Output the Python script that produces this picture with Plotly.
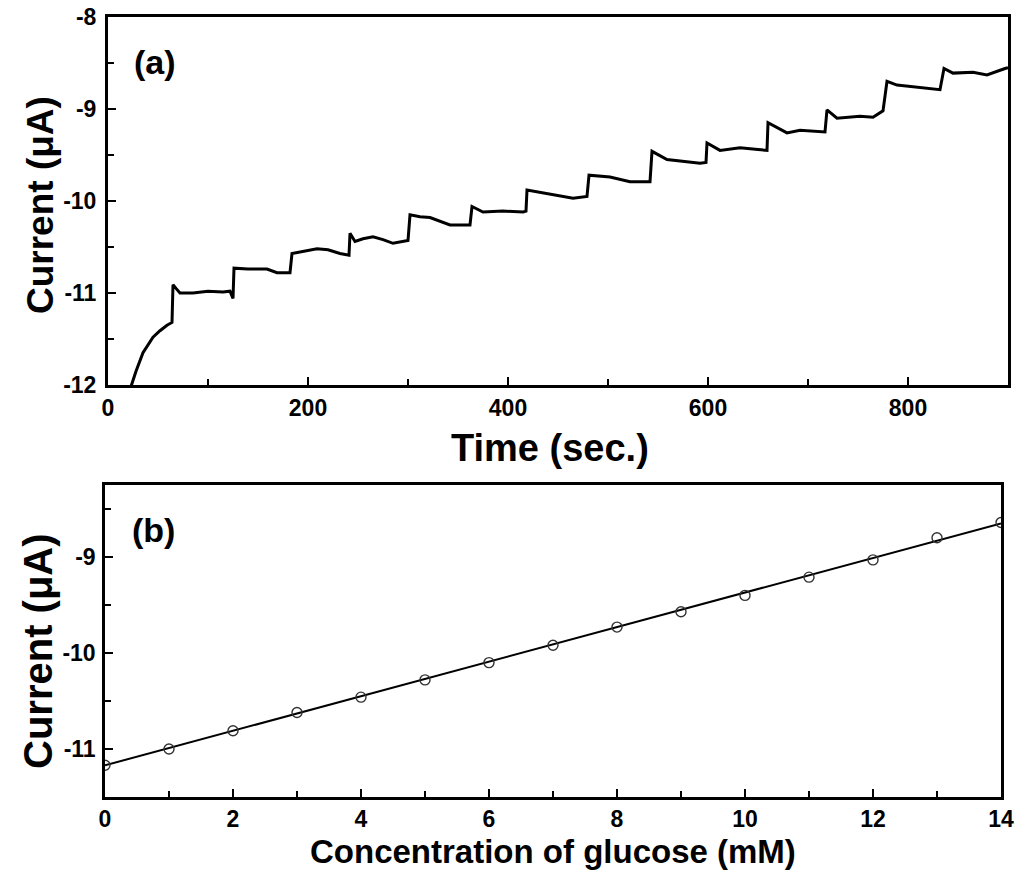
import plotly.graph_objects as go

# (a) amperometric response
tempo = [22, 28, 35, 45, 52, 59, 64, 65, 68, 72, 85, 100, 115, 122, 125,
         126, 140, 159, 169, 182, 184, 195, 209, 220, 232, 241,
         242, 247, 255, 265, 275, 285, 300, 302, 312, 322, 335, 342, 362,
         364, 375, 395, 415, 418, 419, 438, 452, 465, 479,
         481, 502, 522, 542, 544, 559, 575, 592, 598,
         599, 612, 632, 650, 659, 660, 679, 692, 717,
         719, 729, 752, 765, 775, 779, 789, 809, 832,
         836, 845, 865, 879, 897, 900]
corrente = [-12.05, -11.85, -11.65, -11.48, -11.41, -11.35, -11.32, -10.91, -10.95, -11.0, -11.0, -10.98, -10.99, -10.98, -11.06,
            -10.73, -10.74, -10.74, -10.78, -10.78, -10.57, -10.55, -10.52, -10.53, -10.57, -10.59,
            -10.35, -10.44, -10.41, -10.39, -10.42, -10.46, -10.43, -10.15, -10.17, -10.18, -10.23, -10.26, -10.26,
            -10.06, -10.12, -10.11, -10.12, -10.11, -9.88, -9.92, -9.95, -9.97, -9.95,
            -9.72, -9.74, -9.79, -9.79, -9.46, -9.55, -9.57, -9.59, -9.58,
            -9.37, -9.45, -9.42, -9.44, -9.45, -9.15, -9.26, -9.23, -9.25,
            -9.01, -9.10, -9.08, -9.09, -9.02, -8.70, -8.74, -8.76, -8.79,
            -8.56, -8.61, -8.60, -8.63, -8.56, -8.55]

# (b) calibration points and linear fit
conc = [0, 1, 2, 3, 4, 5, 6, 7, 8, 9, 10, 11, 12, 13, 14]
corr_b = [-11.17, -11.0, -10.81, -10.62, -10.46, -10.28, -10.10, -9.92,
          -9.73, -9.57, -9.40, -9.21, -9.03, -8.80, -8.64]
fit_x = [0, 14]
fit_y = [-11.17, -8.65]

ticks_a_y = [-12, -11, -10, -9, -8]
ticks_a_x = [0, 200, 400, 600, 800]
ticks_b_y = [-11, -10, -9]
ticks_b_x = [0, 2, 4, 6, 8, 10, 12, 14]

fonte = "Liberation Sans, Arial, sans-serif"

# full-window figure; the page body margin is removed in post_script
FW, FH = 1024, 884
L, R, T, B = 95, 5, 5, 20
W = FW - L - R
H = FH - T - B

def px(x):
    return (x - L) / W

def py(y):
    return (FH - B - y) / H

fig = go.Figure()
fig.add_trace(go.Scatter(x=tempo, y=corrente, mode='lines',
                         line=dict(color='black', width=3), xaxis='x', yaxis='y'))
fig.add_trace(go.Scatter(x=fit_x, y=fit_y, mode='lines',
                         line=dict(color='black', width=2), xaxis='x2', yaxis='y2'))
fig.add_trace(go.Scatter(x=conc, y=corr_b, mode='markers',
                         marker=dict(symbol='circle-open', size=10, color='#333',
                                     line=dict(width=1.4)),
                         xaxis='x2', yaxis='y2'))

eixo = dict(showline=True, linecolor='black', mirror=True, ticks='inside',
            tickcolor='black', ticklen=8, tickwidth=2, showgrid=False, zeroline=False,
            automargin=False,
            tickfont=dict(family=fonte, size=23, color='black', weight='bold'))

fig.update_layout(
    width=FW, height=FH, showlegend=False,
    paper_bgcolor='white', plot_bgcolor='white',
    margin=dict(l=L, r=R, t=T, b=B),
    font=dict(family=fonte, color='black'),
    xaxis=dict(eixo, domain=[px(108), px(1008)], range=[0, 900], linewidth=3,
               tickvals=ticks_a_x, ticktext=[str(v) for v in ticks_a_x],
               minor=dict(ticks='inside', dtick=100, ticklen=6, tickcolor='black', tickwidth=2),
               anchor='y'),
    yaxis=dict(eixo, domain=[py(385), py(17)], range=[-12, -8], linewidth=3,
               tickvals=ticks_a_y, ticktext=[str(v) for v in ticks_a_y],
               minor=dict(ticks='inside', dtick=0.5, ticklen=6, tickcolor='black', tickwidth=2),
               ticklabelstandoff=4, anchor='x'),
    xaxis2=dict(eixo, domain=[px(105), px(1001)], range=[0, 14], linewidth=2.5,
                tickvals=ticks_b_x, ticktext=[str(v) for v in ticks_b_x],
                minor=dict(ticks='inside', dtick=1, ticklen=6, tickcolor='black', tickwidth=2),
                anchor='y2'),
    yaxis2=dict(eixo, domain=[py(797), py(485)], range=[-11.5, -8.25], linewidth=2.5,
                tickvals=ticks_b_y, ticktext=[str(v) for v in ticks_b_y],
                minor=dict(ticks='inside', dtick=0.5, ticklen=6, tickcolor='black', tickwidth=2),
                ticklabelstandoff=2, anchor='x2'),
)

titulos = [
    dict(text="<b>Current (μA)</b>", x=40, y=205, textangle=-90, size=37),
    dict(text="<b>Time (sec.)</b>", x=550, y=448, textangle=0, size=38),
    dict(text="<b>Current (μA)</b>", x=38, y=651, textangle=-90, size=40),
    dict(text="<b>Concentration of glucose (mM)</b>", x=553, y=851, textangle=0, size=33),
    dict(text="<b>(a)</b>", x=155, y=62, textangle=0, size=34),
    dict(text="<b>(b)</b>", x=153, y=530, textangle=0, size=34),
]
for t in titulos:
    fig.add_annotation(text=t['text'], x=px(t['x']), y=py(t['y']),
                       xref='paper', yref='paper',
                       showarrow=False, textangle=t['textangle'],
                       font=dict(family=fonte, size=t['size'], color='black'),
                       xanchor='center', yanchor='middle')

fig.write_html("out.html", config={'displayModeBar': False},
               post_script="document.body.style.margin = '0';")
